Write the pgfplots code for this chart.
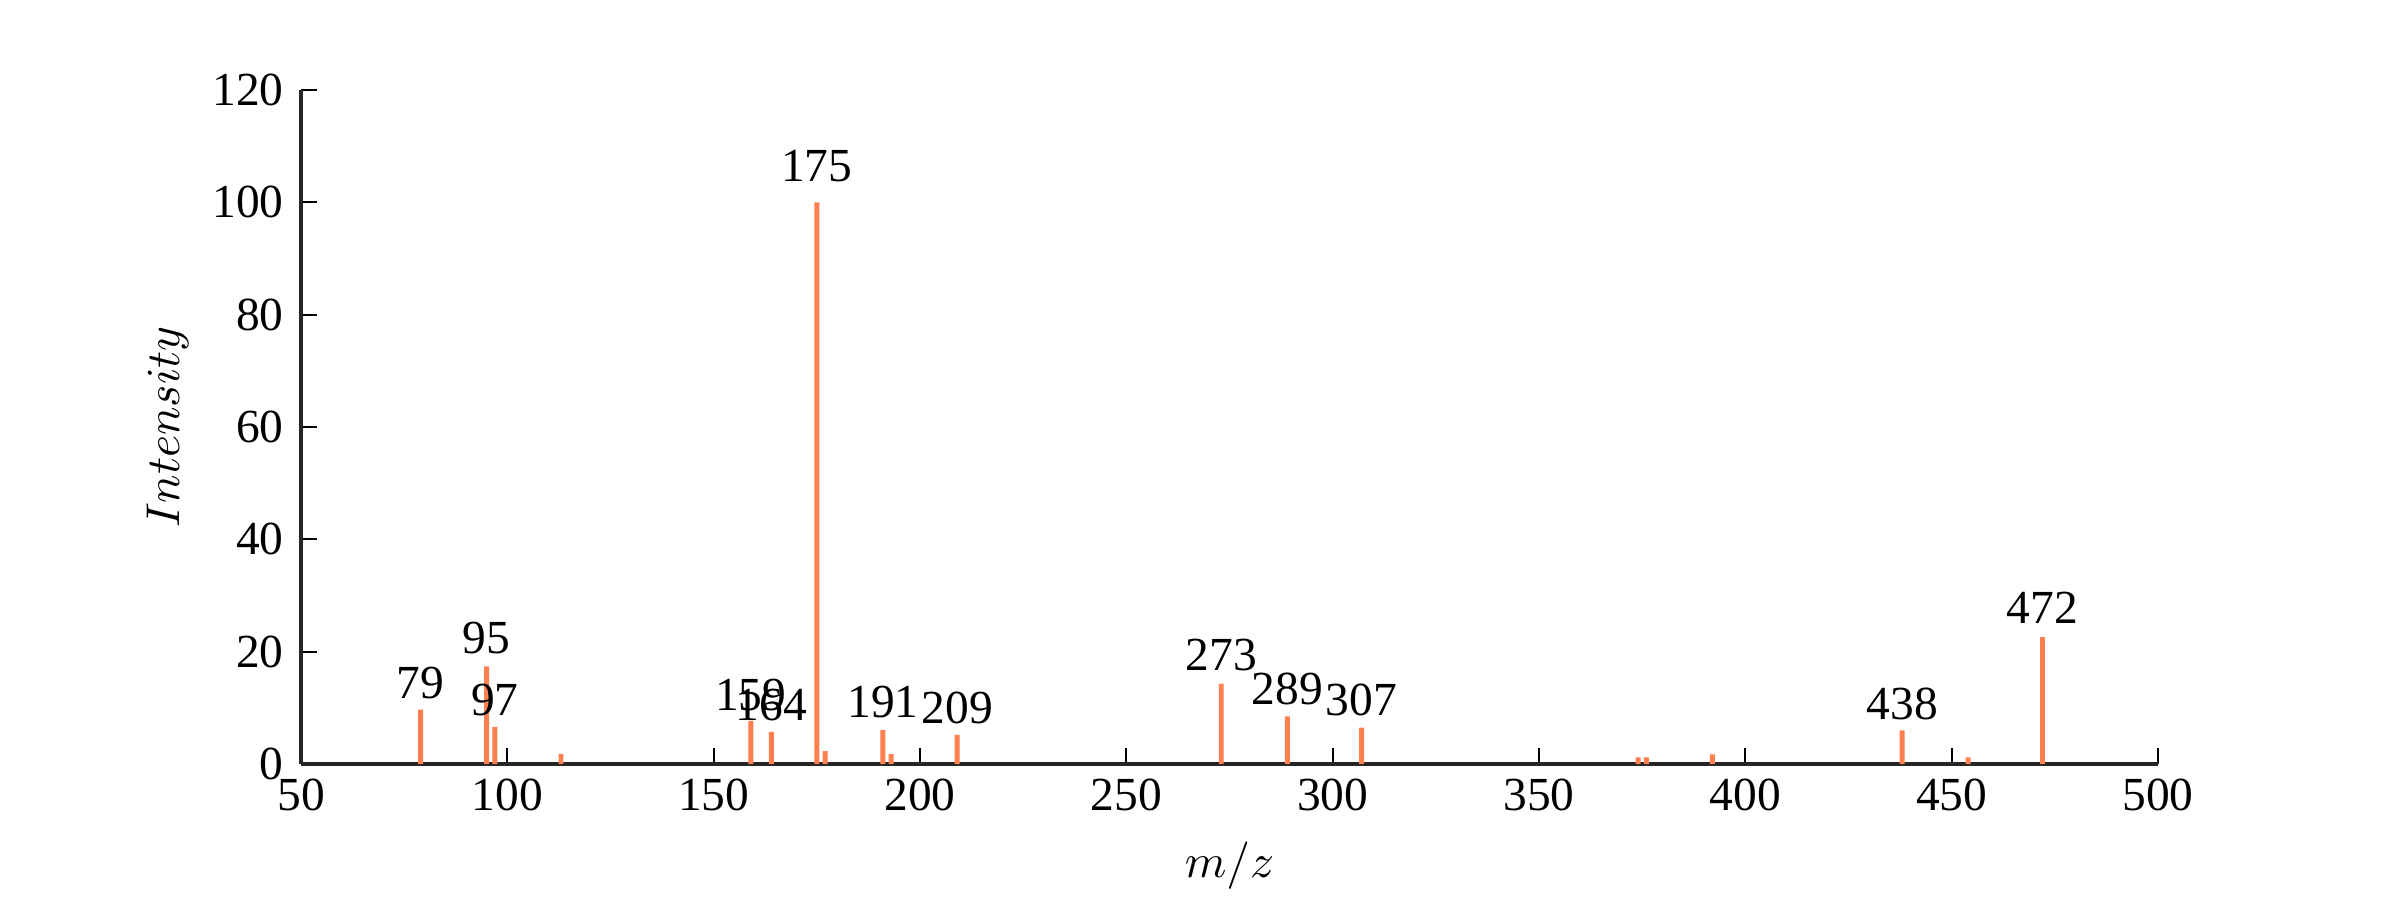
\documentclass[border=0pt]{standalone}
\usepackage{fontspec}
\setmainfont{Liberation Serif}
\usepackage{pgfplots}
\usepackage{pgfplotstable}
\pgfplotsset{compat=1.18}
\definecolor{coral}{RGB}{255,127,80}
\definecolor{axgray}{RGB}{38,38,38}
\pgfplotstableread{
x y
79 9.7
95 17.4
97 6.6
113 1.8
159 7.7
164 5.7
175 100
177 2.3
191 6.1
193 1.8
209 5.2
273 14.3
289 8.5
307 6.5
374 1.2
376 1.2
392 1.7
438 6.0
454 1.2
472 22.6
}\peaks
\pgfplotstableread{
x y label
79 11.7 79
95 19.6 95
97 8.7 97
159 9.6 159
164 7.8 164
175 103.7 175
191 8.2 191
209 7.2 209
273 16.7 273
289 10.6 289
307 8.7 307
438 7.9 438
472 25.0 472
}\labels
\begin{document}
\begin{tikzpicture}
\path (0,0) rectangle (24,9);
\begin{axis}[
  at={(3.01cm,1.36cm)}, anchor=south west,
  scale only axis, width=18.57cm, height=6.74cm,
  xmin=50, xmax=500, ymin=0, ymax=120,
  xtick={50,100,...,500}, ytick={0,20,...,120},
  axis lines=left,
  axis line style={-, line width=1.1pt, draw=axgray},
  tick align=inside, xtick pos=bottom, ytick pos=left,
  major tick length=0.16cm,
  tick style={black, line width=0.6pt},
  /pgf/number format/assume math mode=true,
  tick label style={font=\fontsize{13.5}{16}\selectfont},
  yticklabel style={xshift=-0.05cm},
  xticklabel style={yshift=-0.03cm},
  xlabel={$m/z$}, ylabel={$Intensity$},
  every axis x label/.style={at={(axis description cs:0.5,-0.151)}, anchor=center, font=\normalsize, scale=1.35, inner sep=0pt},
  every axis y label/.style={at={(axis description cs:-0.0716,0.5)}, rotate=90, anchor=center, font=\normalsize, scale=1.35, inner sep=0pt},
  clip=false,
]
\addplot[ybar, bar width=1.2, bar shift=0pt, fill=coral, draw=none] table[x=x,y=y] {\peaks};
\addplot[draw=none, mark=none, nodes near coords, point meta=explicit symbolic,
  every node near coord/.style={anchor=base, inner sep=0pt, font=\fontsize{13.5}{16}\selectfont, text=black}]
  table[x=x,y=y,meta=label] {\labels};
\end{axis}
\end{tikzpicture}
\end{document}
